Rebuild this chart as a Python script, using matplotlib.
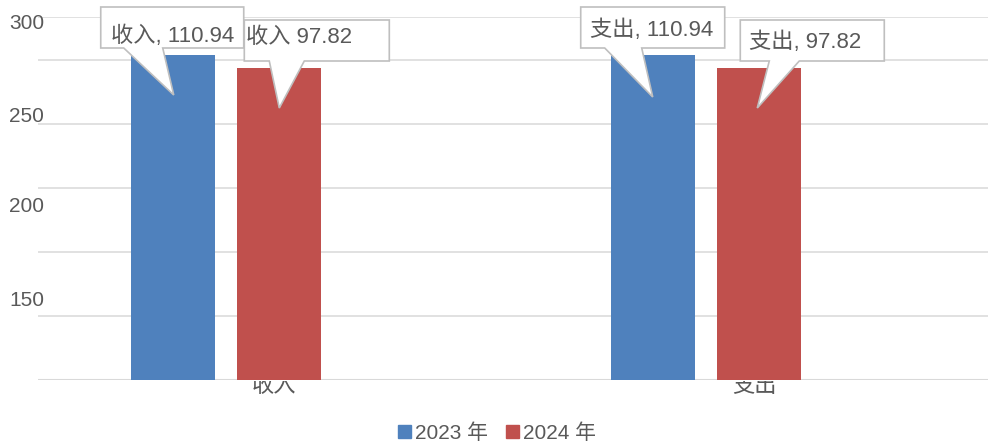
import matplotlib
matplotlib.use('Agg')
import numpy as np
import matplotlib.pyplot as plt
import matplotlib.transforms as mtransforms
from matplotlib.patches import Polygon, Patch

plt.rcParams['font.family'] = ['Liberation Sans', 'Noto Sans CJK SC']

# data
categories = ['收入', '支出']
years = ['2023 年', '2024 年']
values_2023 = [110.94, 110.94]
values_2024 = [97.82, 97.82]
callouts_2023 = ['收入, 110.94', '支出, 110.94']
callouts_2024 = ['收入 97.82', '支出, 97.82']
ytick_labels = ['300', '250', '200', '150']

BLUE, RED = '#4f81bd', '#c0504d'
TEXT = '#595959'
GRID = '#d9d9d9'
EDGE = '#bfbfbf'

W, H, DPI = 988, 447, 100
fig = plt.figure(figsize=(W / DPI, H / DPI), dpi=DPI)
# plot area: x 38..988, y 17..380 px from the top
ax = fig.add_axes([38 / W, (H - 380) / H, 950 / W, 363 / H])

px_per_unit = 0.991
base = max(values_2023) - 325 / px_per_unit
ax.set_ylim(base, base + 363 / px_per_unit)
ax.set_xlim(-0.4917, 1.4875)

x = np.arange(len(categories))
bw = 0.175
ax.bar(x - 0.211, np.array(values_2023) - base, bottom=base, width=bw,
       color=BLUE, zorder=2)
ax.bar(x + 0.011, np.array(values_2024) - base, bottom=base, width=bw,
       color=RED, zorder=2)

# gridlines every 64 px, plus the top edge
for k in range(6):
    ax.axhline(base + k * 64 / px_per_unit, color=GRID,
               lw=1.5 if k == 0 else 1.1, zorder=1)
ax.axhline(ax.get_ylim()[1], color=GRID, lw=1.1, zorder=1)

for s in ax.spines.values():
    s.set_visible(False)
ax.set_yticks([])
ax.set_xticks(x, categories)
ax.tick_params(axis='x', length=0, pad=-3, labelsize=16, labelcolor=TEXT)
# the category labels are cut off at the axis line in the original
clip = mtransforms.TransformedBbox(
    mtransforms.Bbox([[0, 0], [1, (H - 381) / H]]), fig.transFigure)
for lbl in ax.get_xticklabels():
    lbl.set_clip_on(True)
    lbl.set_clip_box(clip)

# y labels sit off the gridlines in the original
for lab, fy in zip(ytick_labels, [0.983, 0.727, 0.4766, 0.220]):
    ax.text(0.0063, fy, lab, transform=ax.transAxes, ha='right', va='center',
            fontsize=15, color=TEXT, zorder=1)

# callout layout, pixels relative to the bar top: box x0, x1, pointer base, tip, text pos
layout_2023 = [dict(box=(-72, 71), ptr=(-49, -10), tip=(1, -40), txt=(-62, 19)),
               dict(box=(-72, 72), ptr=(-48, -11), tip=(0, -42), txt=(-63, 25))]
layout_2024 = [dict(box=(-35, 110), ptr=(-10, 25), tip=(0, -40), txt=(-33, 31)),
               dict(box=(-19, 125), ptr=(10, 40), tip=(-2, -40), txt=(-10, 26))]


def draw_callout(xc, v, label, lay):
    trans = mtransforms.ScaledTranslation(xc, v, ax.transData)
    bx0, bx1 = lay['box']
    by0, by1 = 7, 48
    p0, p1 = lay['ptr']
    tx, ty = lay['tip']
    verts = [(bx0, by1), (bx1, by1), (bx1, by0), (p1, by0), (tx, ty),
             (p0, by0), (bx0, by0)]
    ax.add_patch(Polygon(verts, closed=True, transform=trans, facecolor='white',
                         edgecolor=EDGE, lw=1.2, zorder=4, clip_on=False))
    ax.text(lay['txt'][0], lay['txt'][1], label, transform=trans, ha='left',
            va='center', fontsize=16, color=TEXT, zorder=5, clip_on=False)


for i in range(len(categories)):
    draw_callout(x[i] - 0.211, values_2023[i], callouts_2023[i], layout_2023[i])
    draw_callout(x[i] + 0.011, values_2024[i], callouts_2024[i], layout_2024[i])

handles = [Patch(color=BLUE), Patch(color=RED)]
fig.legend(handles, years, loc='center', bbox_to_anchor=(497 / W, 1 - 433 / H),
           ncol=2, frameon=False, fontsize=15, handlelength=0.62,
           handleheight=0.62, handletextpad=0.2, columnspacing=0.85,
           labelcolor=TEXT, borderpad=0)

fig.savefig('out.png', dpi=DPI)
